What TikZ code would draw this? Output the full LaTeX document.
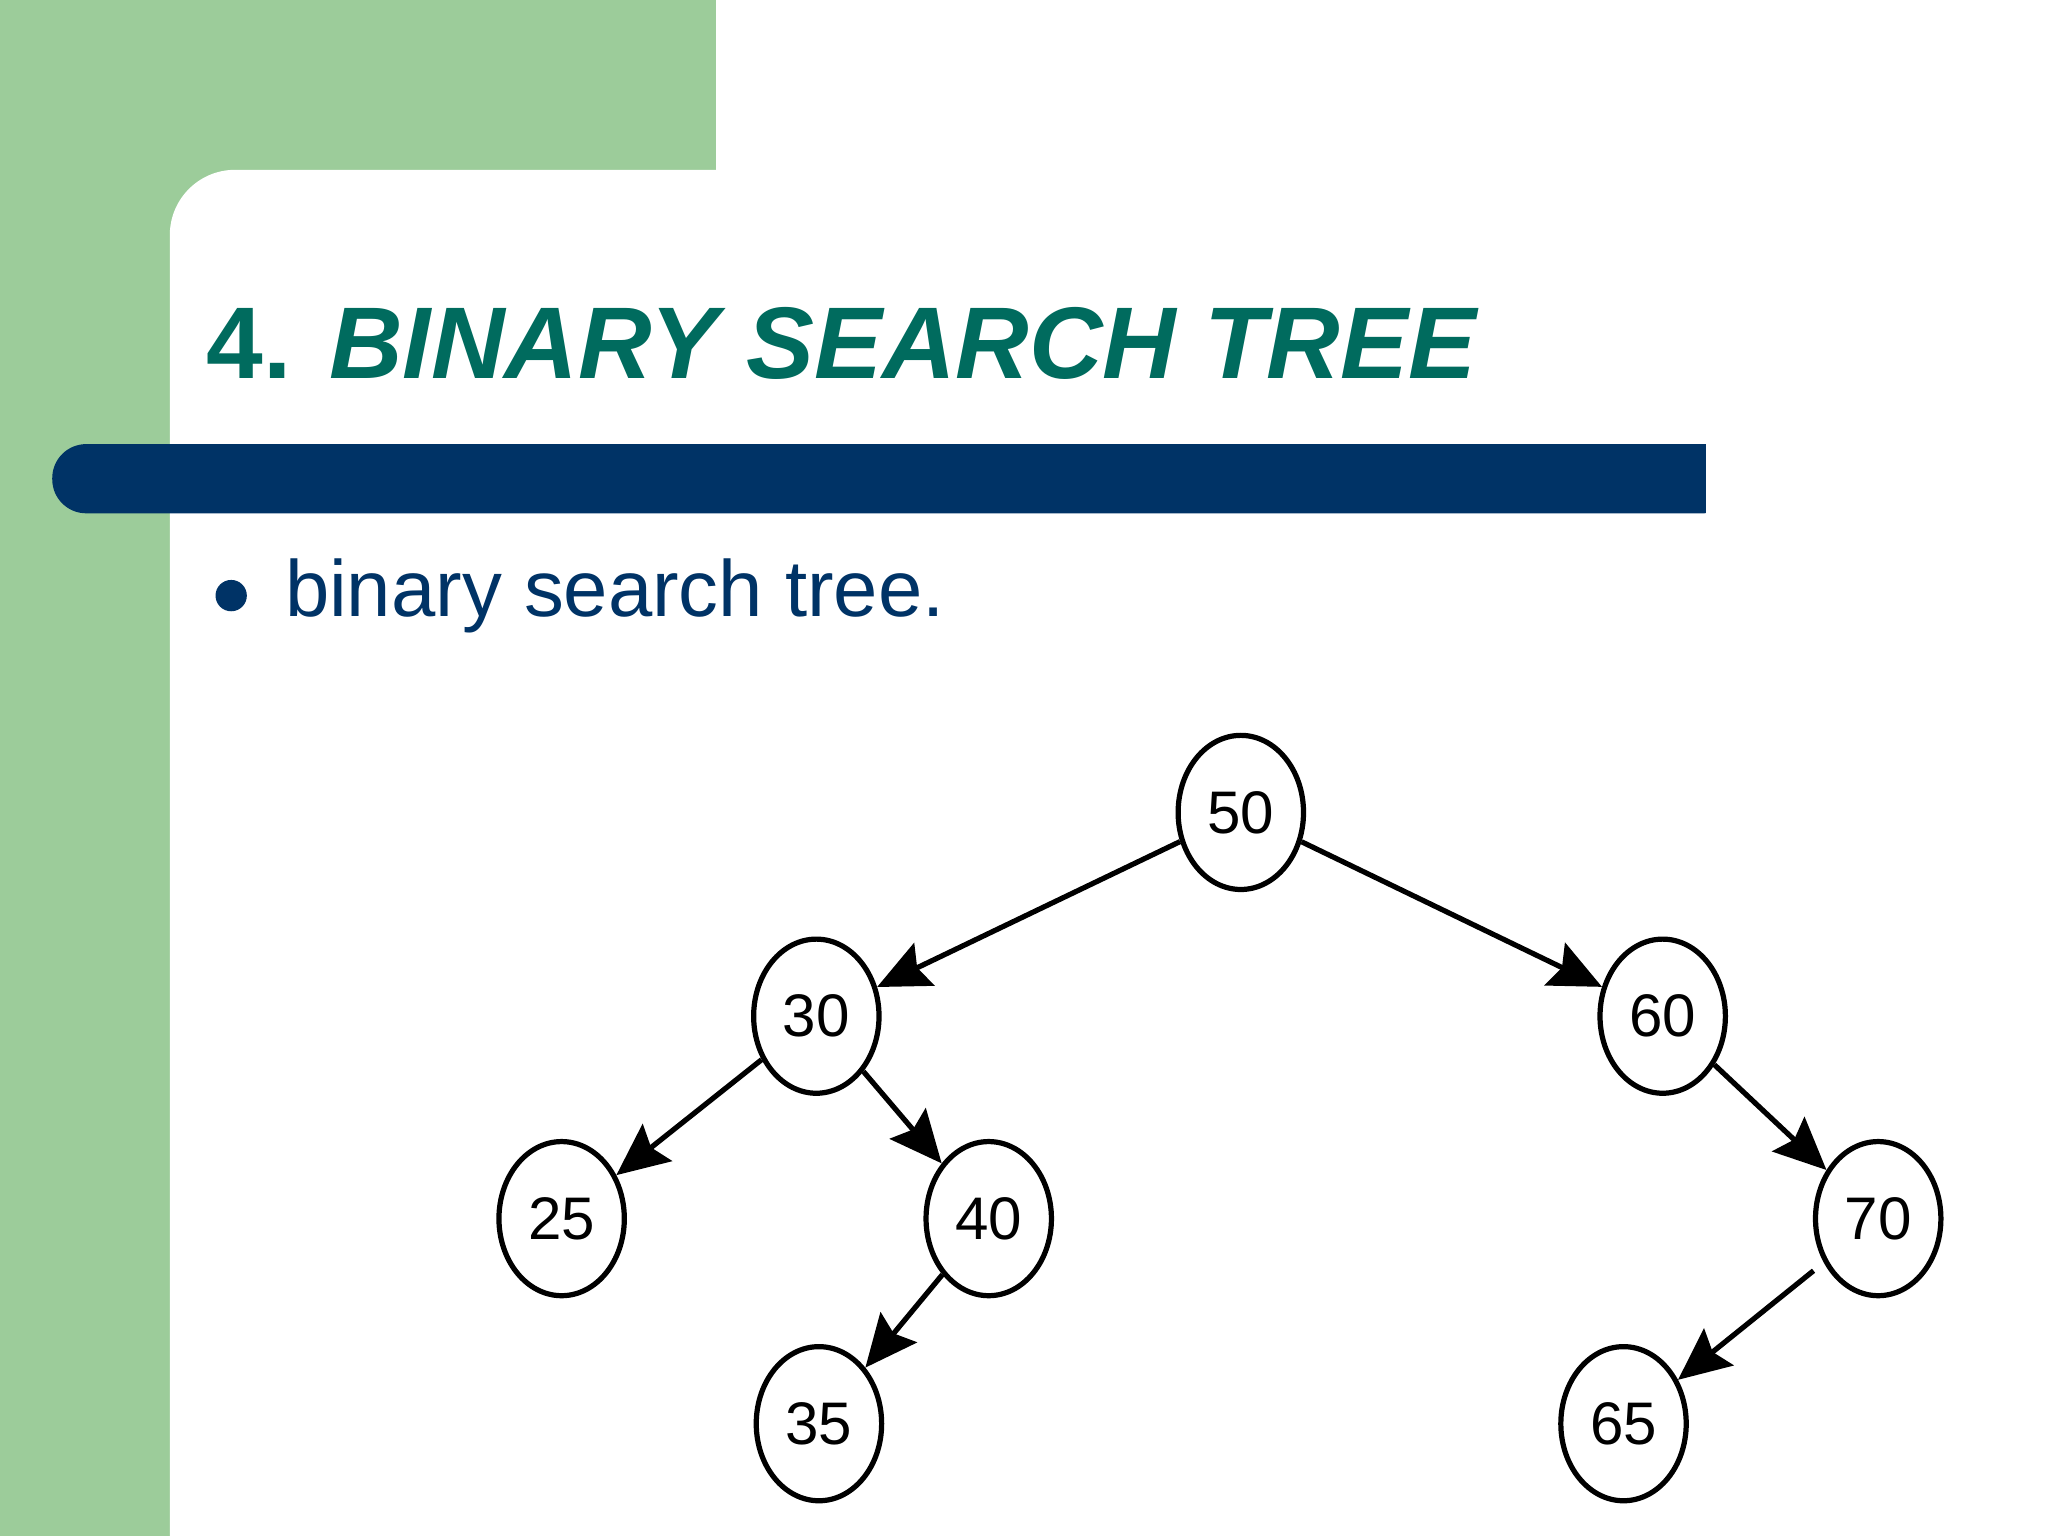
\documentclass[tikz,border=0pt]{standalone}
\usepackage{fontspec}
\setmainfont{Liberation Sans}
\usetikzlibrary{shapes.geometric,arrows.meta}
\definecolor{sgreen}{HTML}{9CCC9A}
\definecolor{sblue}{HTML}{003366}
\definecolor{steal}{HTML}{006B5E}
\tikzset{bst/.style={ellipse,draw,line width=4pt,minimum width=96pt,minimum height=118pt,inner sep=0pt,font=\fontsize{46}{46}\selectfont},
 edge/.style={line width=4pt,-{Stealth[length=40pt,width=36pt,inset=6pt]}}}
\begin{document}
\begin{tikzpicture}[x=1pt,y=-1pt]
\useasboundingbox (0,0) rectangle (1568,1176);
\fill[sgreen] (0,0) rectangle (548,1176);
\fill[white,rounded corners=50pt] (130,130) rectangle (1640,1260);
\fill[sblue,rounded corners=26pt] (40,340) rectangle (1330,393);
\fill[white] (1306,330) rectangle (1340,400);
\node[anchor=base west,inner sep=0pt,text=steal,font=\bfseries\fontsize{78}{78}\selectfont] (title) at (158,290) {4. \textit{BINARY SEARCH TREE}};
\fill[sblue] (177,456) circle (12pt);
\node[anchor=base west,inner sep=0pt,text=sblue,font=\fontsize{61}{61}\selectfont] (bul) at (218,472) {binary search tree.};
\node[bst] (n50) at (950,622) {50};
\node[bst] (n30) at (625,778) {30};
\node[bst] (n60) at (1273,778) {60};
\node[bst] (n25) at (430,933) {25};
\node[bst] (n40) at (757,933) {40};
\node[bst] (n70) at (1438,933) {70};
\node[bst] (n35) at (627,1090) {35};
\node[bst] (n65) at (1243,1090) {65};
\draw[edge] (n50) -- (n30);
\draw[edge] (n50) -- (n60);
\draw[edge] (n30) -- (n25);
\draw[edge] (n30) -- (n40);
\draw[edge] (n60) -- (n70);
\draw[edge] (n40) -- (n35);
\draw[edge,shorten <=10pt] (n70) -- (n65);
\end{tikzpicture}
\end{document}
